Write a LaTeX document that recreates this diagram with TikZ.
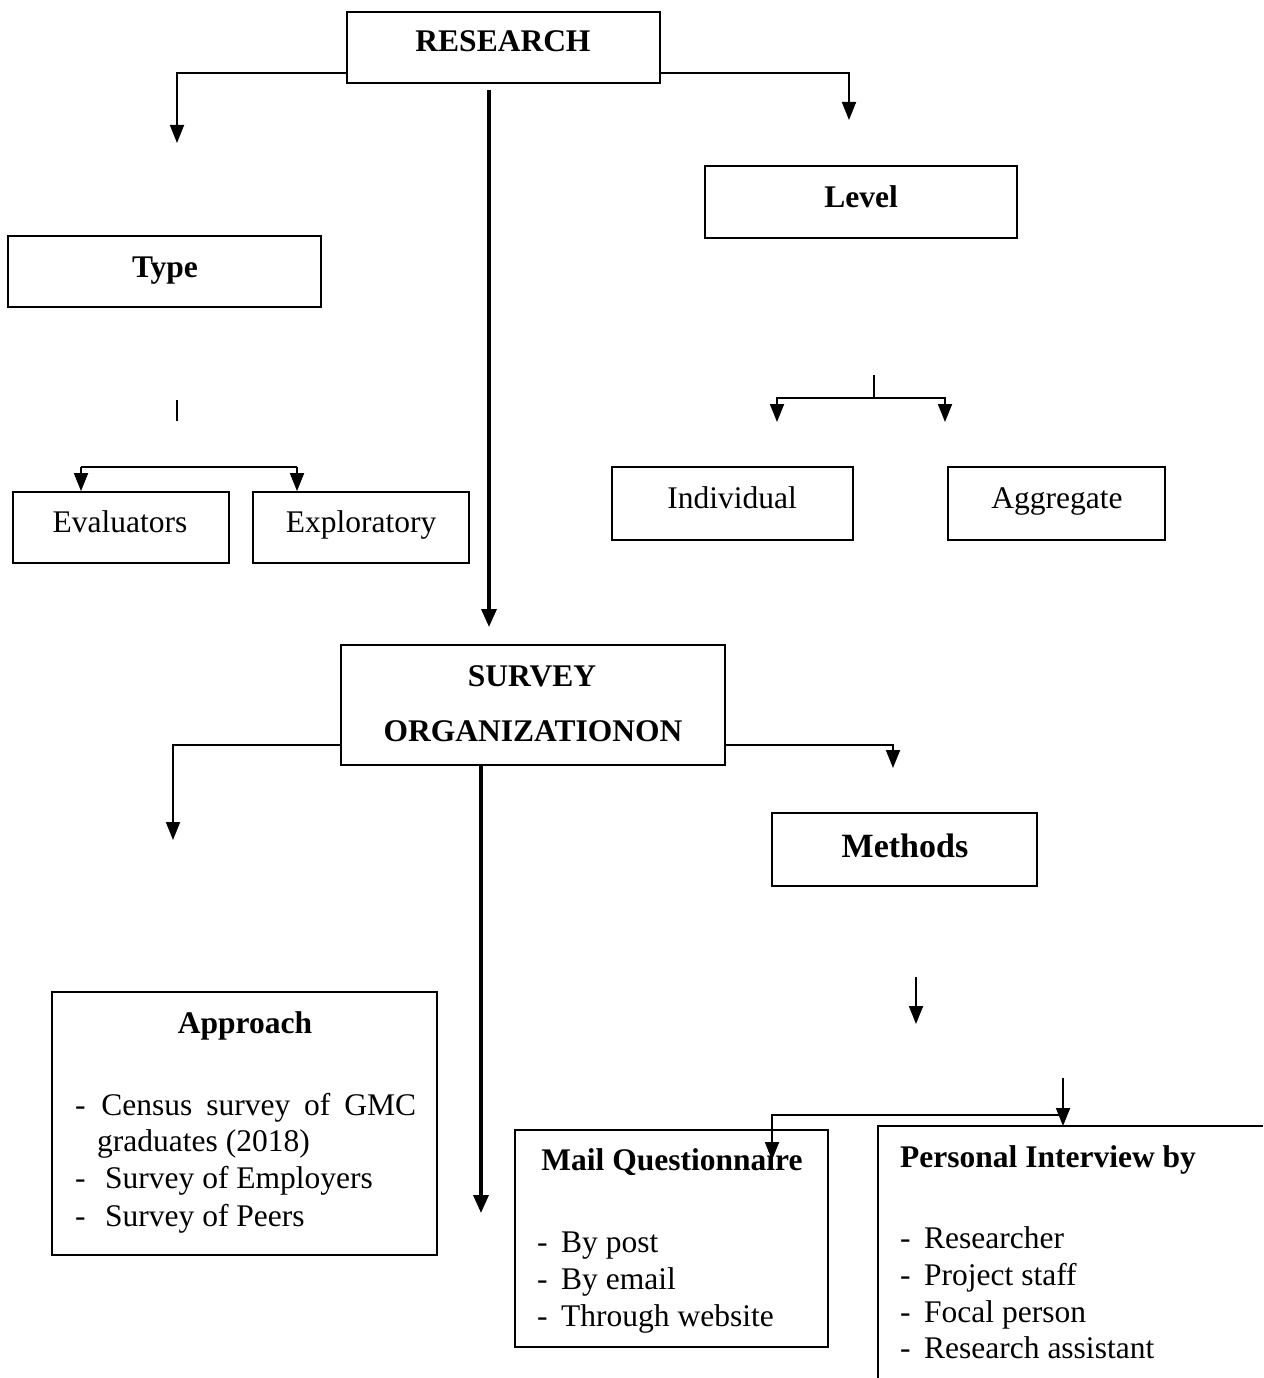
\documentclass[tikz,border=0pt]{standalone}
\usepackage{fontspec}
\setmainfont{Liberation Serif}
\usetikzlibrary{arrows.meta,calc}
\begin{document}
\begin{tikzpicture}[x=1pt,y=-1pt,
  box/.style={draw=black, line width=1.8pt, inner sep=0pt},
  ln/.style={draw=black, line width=1.8pt},
  arr/.style={ln, -{Triangle[length=18pt,width=14pt]}},
  arrthick/.style={draw=black, line width=3.4pt, -{Triangle[length=18pt,width=15pt]}},
  txt/.style={inner sep=0pt, anchor=base, font=\fontsize{31.5}{36}\selectfont},
  btxt/.style={inner sep=0pt, anchor=base, font=\fontsize{31.5}{36}\selectfont\bfseries},
  ltxt/.style={inner sep=0pt, anchor=base west, font=\fontsize{31.5}{36}\selectfont}]
\useasboundingbox (0,0) rectangle (1263,1378);

% boxes
\node[box, minimum width=313pt, minimum height=71pt] (research) at (503.5,47.5) {};
\node[box, minimum width=313pt, minimum height=71pt] (type) at (164.5,271.5) {};
\node[box, minimum width=312pt, minimum height=72pt] (level) at (861,202) {};
\node[box, minimum width=216pt, minimum height=71pt] (evaluators) at (121,527.5) {};
\node[box, minimum width=216pt, minimum height=71pt] (exploratory) at (361,527.5) {};
\node[box, minimum width=241pt, minimum height=73pt] (individual) at (732.5,503.5) {};
\node[box, minimum width=217pt, minimum height=73pt] (aggregate) at (1056.5,503.5) {};
\node[box, minimum width=384pt, minimum height=120pt] (survey) at (533,705) {};
\node[box, minimum width=265pt, minimum height=73pt] (methods) at (904.5,849.5) {};
\node[box, minimum width=385pt, minimum height=263pt] (approach) at (244.5,1123.5) {};
\node[box, minimum width=313pt, minimum height=217pt] (mail) at (671.5,1238.5) {};
\coordinate (pTR) at (1263,1126);
\coordinate (pTL) at (878,1126);
\coordinate (pBL) at (878,1378);
\draw[ln] (pTR) -- (pTL) -- (pBL);

% texts
\node[btxt] (tResearch) at (503,52) {RESEARCH};
\node[btxt] (tType) at (165,277) {Type};
\node[btxt] (tLevel) at (861,207) {Level};
\node[txt] (tEval) at (120,532) {Evaluators};
\node[txt] (tExpl) at (361,532) {Exploratory};
\node[txt] (tInd) at (732,508) {Individual};
\node[txt] (tAgg) at (1057,508) {Aggregate};
\node[btxt] (tSurvey) at (532,686) {SURVEY};
\node[btxt] (tOrg) at (533,741) {ORGANIZATIONON};
\node[btxt, font=\fontsize{34}{38}\selectfont\bfseries] (tMethods) at (905,857) {Methods};
\node[btxt] (tApproach) at (245,1033) {Approach};
\node[ltxt] (a1) at (75,1115) {\hbox to 341pt{-\ \ Census\hfill survey\hfill of\hfill GMC}};
\node[ltxt] (a2) at (97,1151) {graduates (2018)};
\node[ltxt] (a3) at (75,1188) {\makebox[30pt][l]{-}Survey of Employers};
\node[ltxt] (a4) at (75,1226) {\makebox[30pt][l]{-}Survey of Peers};
\node[btxt] (tMail) at (672,1170) {Mail Questionnaire};
\node[ltxt] (m1) at (537,1252) {\makebox[24pt][l]{-}By post};
\node[ltxt] (m2) at (537,1289) {\makebox[24pt][l]{-}By email};
\node[ltxt] (m3) at (537,1326) {\makebox[24pt][l]{-}Through website};
\node[btxt, anchor=base west] (tPers) at (900,1167) {Personal Interview by};
\node[ltxt] (p1) at (900,1248) {\makebox[24pt][l]{-}Researcher};
\node[ltxt] (p2) at (900,1285) {\makebox[24pt][l]{-}Project staff};
\node[ltxt] (p3) at (900,1322) {\makebox[24pt][l]{-}Focal person};
\node[ltxt] (p4) at (900,1358) {\makebox[24pt][l]{-}Research assistant};

% connectors from RESEARCH
\coordinate (tA) at (177,143);
\coordinate (lA) at (849,120);
\draw[arr] ([yshift=11pt]research.south west) -| (tA);
\draw[arr] ([yshift=11pt]research.south east) -| (lA);
\coordinate (cS) at (489,90);
\coordinate (cE) at (489,627);
\draw[arrthick] (cS) -- (cE);

% Type split
\coordinate (ts1) at (177,400);
\coordinate (ts2) at (177,421);
\draw[ln, line width=1.2pt] (ts1) -- (ts2);
\coordinate (tsL) at (81,467);
\coordinate (tsR) at (297,467);
\draw[ln] (tsL) -- (tsR);
\draw[arr] (tsL) -- (tsL |- evaluators.north);
\draw[arr] (tsR) -- (tsR |- exploratory.north);

% Level split
\coordinate (ls1) at (874,375);
\coordinate (ls2) at (874,398);
\coordinate (lsL) at (777,422);
\coordinate (lsR) at (945,422);
\draw[ln, line width=1.2pt] (ls1) -- (ls2);
\draw[arr] (ls2) -| (lsL);
\draw[arr] (ls2) -| (lsR);

% connectors from SURVEY
\coordinate (sL) at (173,840);
\coordinate (sR) at (893,768);
\draw[arr] ([yshift=21pt]survey.south west) -| (sL);
\draw[arr] ([yshift=21pt]survey.south east) -| (sR);
\coordinate (sC1) at (481,765);
\coordinate (sC2) at (481,1213);
\draw[arrthick] (sC1) -- (sC2);

% Methods arrows
\coordinate (mA1) at (916,977);
\coordinate (mA2) at (916,1024);
\draw[arr] (mA1) -- (mA2);
\coordinate (pA1) at (1063,1078);
\draw[arr] (pA1) -- (pA1 |- pTL);
\coordinate (hR) at (1063,1115);
\coordinate (hL) at (772,1115);
\coordinate (mQ) at (772,1160);
\draw[arr] (hR) -- (hL) -- (mQ);
\end{tikzpicture}
\end{document}
